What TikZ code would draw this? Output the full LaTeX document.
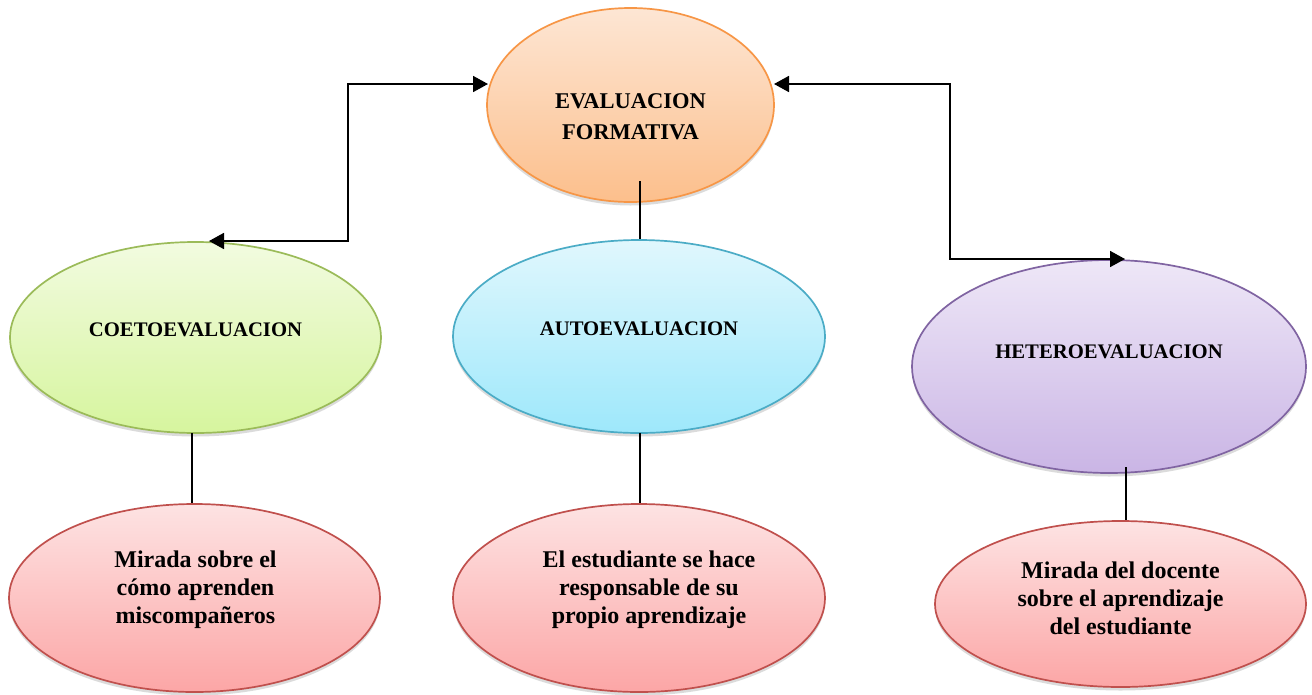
\documentclass[tikz,border=0pt]{standalone}
\usepackage{fontspec}
\setmainfont{Liberation Serif}
\usetikzlibrary{shapes.geometric,shadows,arrows.meta}
\definecolor{orbd}{HTML}{F79646}
\definecolor{ortop}{HTML}{FDE6D4}
\definecolor{orbot}{HTML}{FCBF8C}
\definecolor{grbd}{HTML}{9BBB59}
\definecolor{grtop}{HTML}{F2FBE0}
\definecolor{grbot}{HTML}{D6F59E}
\definecolor{blbd}{HTML}{4BACC6}
\definecolor{bltop}{HTML}{E0F7FD}
\definecolor{blbot}{HTML}{9EE8FB}
\definecolor{pubd}{HTML}{8064A2}
\definecolor{putop}{HTML}{EEE7F7}
\definecolor{pubot}{HTML}{CAB5E5}
\definecolor{pkbd}{HTML}{C0504D}
\definecolor{pktop}{HTML}{FDE3E3}
\definecolor{pkbot}{HTML}{FCA6A6}
\tikzset{
  oval/.style={ellipse, inner sep=0pt, line width=1.7pt,
    drop shadow={opacity=0.28, shadow xshift=0pt, shadow yshift=-3.5pt}},
  orangeoval/.style={oval, draw=orbd, top color=ortop, bottom color=orbot},
  greenoval/.style={oval, draw=grbd, top color=grtop, bottom color=grbot},
  blueoval/.style={oval, draw=blbd, top color=bltop, bottom color=blbot},
  purpleoval/.style={oval, draw=pubd, top color=putop, bottom color=pubot},
  pinkoval/.style={oval, draw=pkbd, top color=pktop, bottom color=pkbot},
  lbl/.style={align=center, inner sep=0pt, text=black},
  toplbl/.style={lbl, font=\bfseries\fontsize{22.5}{31}\selectfont},
  headlbl/.style={lbl, font=\bfseries\fontsize{20.7}{24}\selectfont},
  bodylbl/.style={lbl, font=\bfseries\fontsize{24}{28}\selectfont},
  conn/.style={line width=1.8pt, black},
  arr/.style={conn, {Triangle[length=15pt,width=16pt]}-{Triangle[length=15pt,width=16pt]}}
}
\begin{document}
\begin{tikzpicture}[x=1pt,y=-1pt]
\useasboundingbox (0,0) rectangle (1312,694);
\fill[white] (0,0) rectangle (1312,694);

% ellipses
\node[orangeoval, minimum width=287pt, minimum height=194pt] (formativa) at (630.5,105) {};
\node[greenoval, minimum width=371pt, minimum height=191pt] (coeto) at (195.5,337.5) {};
\node[blueoval, minimum width=372pt, minimum height=193pt] (auto) at (639,336.5) {};
\node[purpleoval, minimum width=394pt, minimum height=213pt] (hetero) at (1109,366.5) {};
\node[pinkoval, minimum width=371pt, minimum height=188pt] (mir1) at (194.5,598) {};
\node[pinkoval, minimum width=372pt, minimum height=188pt] (mir2) at (639,598) {};
\node[pinkoval, minimum width=371pt, minimum height=166pt] (mir3) at (1120.5,604) {};

% labels
\node[toplbl] (formativaT) at (630.5,117) {EVALUACION\\FORMATIVA};
\node[headlbl] (coetoT) at (195.5,330) {COETOEVALUACION};
\node[headlbl] (autoT) at (639,329) {AUTOEVALUACION};
\node[headlbl] (heteroT) at (1109,352) {HETEROEVALUACION};
\node[bodylbl] (mir1T) at (195.5,590) {Mirada sobre el\\cómo aprenden\\miscompañeros};
\node[bodylbl] (mir2T) at (649,590) {El estudiante se hace\\responsable de su\\propio aprendizaje};
\node[bodylbl] (mir3T) at (1120.5,598) {Mirada del docente\\sobre el aprendizaje\\del estudiante};

% straight connectors
\coordinate (fa) at (640,181);
\draw[conn] (fa) -- (fa |- auto.north);
\coordinate (cm) at (192,433);
\draw[conn] (cm) -- (cm |- mir1.north);
\coordinate (am) at (640,433);
\draw[conn] (am) -- (am |- mir2.north);
\coordinate (hm) at (1126,467);
\draw[conn] (hm) -- (hm |- mir3.north);

% elbow arrows
\coordinate (lt) at (209,241);
\coordinate (fl) at (488,84);
\draw[arr] (lt) -| (348,84) -- (fl);
\coordinate (fr) at (774,84);
\coordinate (rt) at (1125,259);
\draw[arr] (fr) -| (950,259) -- (rt);
\end{tikzpicture}
\end{document}
